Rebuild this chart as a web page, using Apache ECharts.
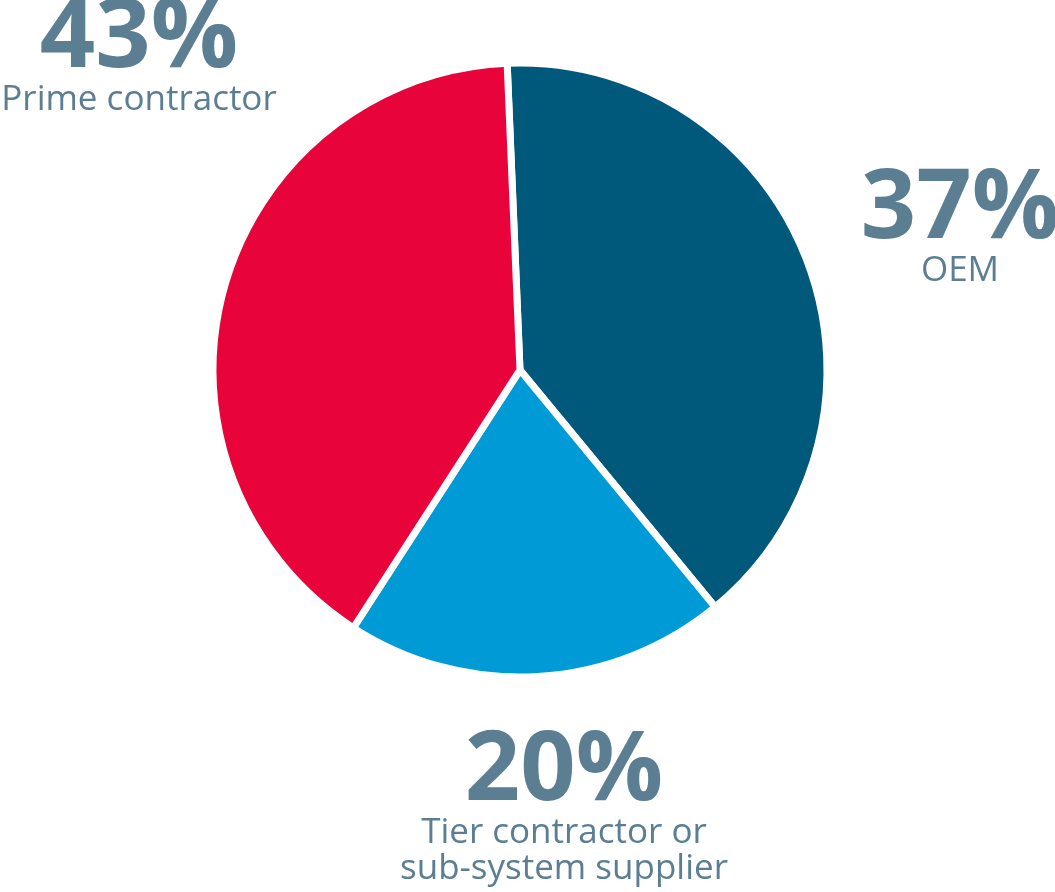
<!DOCTYPE html>
<html>
<head>
<meta charset="utf-8">
<title>Contractor share</title>
<script src="https://cdn.jsdelivr.net/npm/echarts@6/dist/echarts.min.js"></script>
<style>
  html, body { margin: 0; padding: 0; background: #fff; }
  #chart { width: 1055px; height: 892px; }
</style>
</head>
<body>
<div id="chart"></div>
<script>
// categories, clockwise from the top
var categories = ['OEM', 'Tier contractor or\nsub-system supplier', 'Prime contractor'];
// percentages as printed on the labels
var labelPercents = [37, 20, 43];
// slice sizes as they are drawn (measured from the slice angles)
var sliceShares = [39.7, 20.1, 40.2];
var sliceColors = ['#00587a', '#009ad6', '#e8043a'];
// label anchor (top-centre of each text block)
var labelPos = [[960, 167], [564, 729], [139, -4]];

var textColor = '#5b7e93';

var chart = echarts.init(document.getElementById('chart'));

var pieData = [];
for (var i = 0; i < categories.length; i++) {
    pieData.push({
        name: categories[i],
        value: sliceShares[i],
        itemStyle: { color: sliceColors[i] }
    });
}

chart.setOption({
    animation: false,
    series: [{
        type: 'pie',
        center: [520, 370],
        radius: [0, 307],
        startAngle: 92.4,
        clockwise: true,
        avoidLabelOverlap: false,
        itemStyle: {
            borderColor: '#fff',
            borderWidth: 7
        },
        emphasis: { disabled: true },
        labelLine: { show: false },
        label: {
            show: true,
            position: 'outside',
            color: textColor,
            fontFamily: 'Open Sans',
            formatter: function (p) {
                var lines = p.name.split('\n').map(function (s) { return '{b|' + s + '}'; });
                return '{a|' + labelPercents[p.dataIndex] + '%}\n' + lines.join('\n');
            },
            rich: {
                a: {
                    fontFamily: 'Open Sans',
                    fontWeight: 'bold',
                    fontSize: 97,
                    lineHeight: 86,
                    color: textColor,
                    align: 'center'
                },
                b: {
                    fontFamily: 'Open Sans',
                    fontSize: 35,
                    lineHeight: 36,
                    color: textColor,
                    align: 'center'
                }
            }
        },
        labelLayout: function (params) {
            var p = labelPos[params.dataIndex];
            return { x: p[0], y: p[1], align: 'center', verticalAlign: 'top' };
        },
        data: pieData
    }]
});
</script>
</body>
</html>
